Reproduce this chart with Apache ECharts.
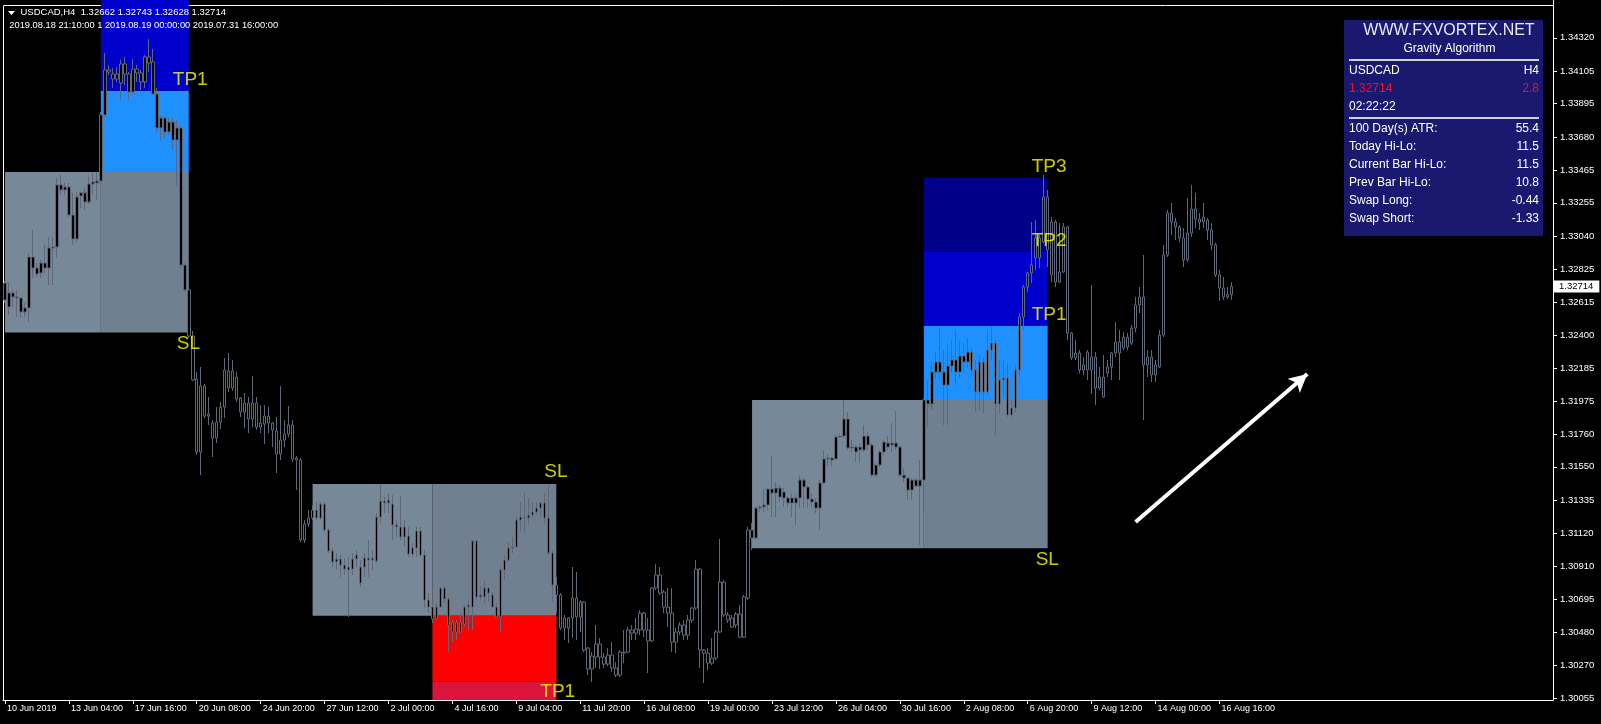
<!DOCTYPE html>
<html><head><meta charset="utf-8">
<script src="https://cdn.jsdelivr.net/npm/echarts@6/dist/echarts.min.js"></script>
<style>html,body{margin:0;padding:0;background:#000;}#c{width:1601px;height:724px;}</style>
</head><body><div id="c"></div>
<script>
// ---------- data ----------
const headerLine1 = 'USDCAD,H4  1.32662 1.32743 1.32628 1.32714';
const headerLine2 = '2019.08.18 21:10:00 1 2019.08.19 00:00:00 2019.07.31 16:00:00';
const xTickLabels = ['10 Jun 2019','13 Jun 04:00','17 Jun 16:00','20 Jun 08:00','24 Jun 20:00','27 Jun 12:00','2 Jul 00:00','4 Jul 16:00','9 Jul 04:00','11 Jul 20:00','16 Jul 08:00','19 Jul 00:00','23 Jul 12:00','26 Jul 04:00','30 Jul 16:00','2 Aug 08:00','6 Aug 20:00','9 Aug 12:00','14 Aug 00:00','16 Aug 16:00'];
const xTickBars = [0,16,32,48,64,80,96,112,128,144,160,176,192,208,224,240,256,272,288,304];
const yTickLabels = ['1.30055','1.30270','1.30480','1.30695','1.30910','1.31120','1.31335','1.31550','1.31760','1.31975','1.32185','1.32400','1.32615','1.32825','1.33040','1.33255','1.33465','1.33680','1.33895','1.34105','1.34320'];
const slotCount = 388;
const priceMin = 1.30045, priceMax = 1.34564;
const lastPrice = 1.32714;
// [open, close, low, high]
const candles = [
[1.32627,1.32737,1.32608,1.32750],[1.32673,1.32582,1.32531,1.32743],[1.32647,1.32673,1.32582,1.32692],[1.32647,1.32640,1.32518,1.32692],
[1.32640,1.32550,1.32511,1.32647],[1.32550,1.32576,1.32518,1.32608],[1.32576,1.32905,1.32485,1.32931],[1.32905,1.32834,1.32769,1.33079],
[1.32834,1.32795,1.32776,1.32866],[1.32802,1.32866,1.32769,1.32886],[1.32866,1.32834,1.32802,1.32983],[1.32834,1.32963,1.32724,1.33034],
[1.32963,1.32970,1.32724,1.33028],[1.32970,1.33370,1.32899,1.33415],[1.33370,1.33338,1.33305,1.33435],[1.33338,1.33357,1.33305,1.33383],
[1.33357,1.33176,1.33163,1.33383],[1.33176,1.33021,1.32983,1.33319],[1.33021,1.33292,1.33002,1.33325],[1.33299,1.33319,1.33221,1.33325],
[1.33319,1.33260,1.33208,1.33351],[1.33260,1.33376,1.33247,1.33422],[1.33376,1.33389,1.33305,1.33448],[1.33383,1.33396,1.33273,1.33454],
[1.33396,1.33822,1.33370,1.33841],[1.33822,1.34112,1.33809,1.34222],[1.34112,1.34099,1.34080,1.34144],[1.34086,1.34054,1.33996,1.34125],
[1.34054,1.34086,1.34035,1.34131],[1.34028,1.34151,1.33918,1.34177],[1.34151,1.34086,1.34015,1.34196],[1.34086,1.33970,1.33918,1.34099],
[1.33970,1.34118,1.33951,1.34183],[1.34118,1.34093,1.34035,1.34144],[1.34093,1.34035,1.33983,1.34112],[1.34035,1.34196,1.33996,1.34209],
[1.34196,1.34157,1.34099,1.34312],[1.34164,1.33957,1.33951,1.34248],[1.33957,1.33738,1.33712,1.33996],[1.33738,1.33802,1.33660,1.33815],
[1.33802,1.33712,1.33673,1.33809],[1.33712,1.33776,1.33692,1.33802],[1.33776,1.33660,1.33596,1.33802],[1.33660,1.33738,1.33357,1.33789],
[1.33738,1.32853,1.32834,1.33757],[1.32853,1.32692,1.32679,1.32866],[1.32692,1.32395,1.32382,1.32705],[1.32395,1.32111,1.32104,1.32427],
[1.32117,1.31646,1.31627,1.32162],[1.31646,1.32072,1.31497,1.32195],[1.32072,1.31878,1.31865,1.32085],[1.31878,1.31891,1.31820,1.32001],
[1.31833,1.31736,1.31614,1.31852],[1.31736,1.31839,1.31704,1.31936],[1.31839,1.31936,1.31794,1.31969],[1.31936,1.32175,1.31865,1.32253],
[1.32169,1.32059,1.32033,1.32285],[1.32059,1.32169,1.32040,1.32240],[1.32130,1.31988,1.31969,1.32162],[1.31995,1.31904,1.31872,1.32001],
[1.31904,1.31962,1.31801,1.32027],[1.31962,1.31859,1.31768,1.32001],[1.31859,1.31962,1.31807,1.32137],[1.31962,1.31807,1.31788,1.32001],
[1.31807,1.31833,1.31768,1.31949],[1.31826,1.31878,1.31697,1.31949],[1.31878,1.31833,1.31768,1.31936],[1.31833,1.31788,1.31678,1.31839],
[1.31781,1.31633,1.31510,1.31872],[1.31633,1.31723,1.31594,1.32072],[1.31723,1.31762,1.31678,1.31852],[1.31762,1.31820,1.31743,1.31943],
[1.31820,1.31601,1.31581,1.31852],[1.31607,1.31594,1.31400,1.31620],[1.31594,1.31078,1.31065,1.31607],[1.31078,1.31181,1.31058,1.31207],
[1.31181,1.31220,1.31162,1.31271],[1.31220,1.31271,1.31207,1.31304],[1.31271,1.31220,1.31207,1.31323],[1.31220,1.31310,1.31207,1.31323],
[1.31310,1.31142,1.31129,1.31323],[1.31142,1.31007,1.30994,1.31155],[1.31007,1.30936,1.30903,1.31026],[1.30936,1.30955,1.30884,1.30994],
[1.30955,1.30916,1.30839,1.30981],[1.30916,1.30890,1.30852,1.30961],[1.30903,1.30884,1.30581,1.30968],[1.30890,1.30955,1.30852,1.30994],
[1.30955,1.30981,1.30903,1.31013],[1.30903,1.30800,1.30774,1.30948],[1.30903,1.30961,1.30839,1.30994],[1.30961,1.30948,1.30839,1.31078],
[1.30948,1.30961,1.30884,1.31013],[1.30942,1.31226,1.30929,1.31252],[1.31226,1.31329,1.31187,1.31439],[1.31329,1.31317,1.31252,1.31355],
[1.31317,1.31336,1.31252,1.31381],[1.31310,1.31175,1.31078,1.31368],[1.31175,1.31162,1.31097,1.31207],[1.31162,1.31097,1.31078,1.31362],
[1.31097,1.31162,1.31033,1.31207],[1.31104,1.30987,1.30968,1.31162],[1.30987,1.31026,1.30968,1.31058],[1.31026,1.31136,1.30968,1.31162],
[1.31136,1.30981,1.30968,1.31162],[1.30981,1.30690,1.30645,1.31013],[1.30690,1.30645,1.30606,1.30735],[1.30645,1.30568,1.30542,1.30671],
[1.30568,1.30645,1.30561,1.30671],[1.30645,1.30768,1.30639,1.30774],[1.30768,1.30697,1.30671,1.30781],[1.30697,1.30529,1.30354,1.30710],
[1.30542,1.30484,1.30419,1.30561],[1.30484,1.30542,1.30432,1.30561],[1.30542,1.30484,1.30477,1.30606],[1.30535,1.30645,1.30516,1.30658],
[1.30645,1.30658,1.30497,1.30690],[1.30645,1.31071,1.30497,1.31078],[1.31071,1.30710,1.30690,1.31078],[1.30710,1.30723,1.30690,1.30774],
[1.30710,1.30768,1.30671,1.30819],[1.30768,1.30735,1.30677,1.30774],[1.30723,1.30645,1.30639,1.30742],[1.30645,1.30581,1.30574,1.30671],
[1.30581,1.30884,1.30484,1.30903],[1.30884,1.30948,1.30819,1.30981],[1.30948,1.31026,1.30936,1.31065],[1.31026,1.31033,1.30994,1.31097],
[1.31033,1.31207,1.31026,1.31226],[1.31207,1.31226,1.31129,1.31323],[1.31226,1.31220,1.31123,1.31388],[1.31220,1.31239,1.31175,1.31349],
[1.31239,1.31258,1.31226,1.31323],[1.31258,1.31284,1.31239,1.31323],[1.31284,1.31317,1.31226,1.31323],[1.31317,1.31220,1.31187,1.31381],
[1.31220,1.30994,1.30981,1.31433],[1.30994,1.30787,1.30677,1.31013],[1.30787,1.30723,1.30606,1.30839],[1.30723,1.30510,1.30497,1.30735],
[1.30510,1.30574,1.30432,1.30594],[1.30574,1.30510,1.30413,1.30581],[1.30574,1.30703,1.30445,1.30903],[1.30703,1.30581,1.30432,1.30871],
[1.30581,1.30677,1.30484,1.30690],[1.30677,1.30367,1.30354,1.30684],[1.30380,1.30245,1.30206,1.30387],[1.30245,1.30329,1.30161,1.30354],
[1.30322,1.30406,1.30251,1.30529],[1.30406,1.30322,1.30245,1.30445],[1.30322,1.30277,1.30251,1.30348],[1.30277,1.30335,1.30264,1.30380],
[1.30335,1.30251,1.30225,1.30419],[1.30251,1.30206,1.30193,1.30290],[1.30206,1.30354,1.30193,1.30367],[1.30354,1.30348,1.30283,1.30497],
[1.30354,1.30497,1.30348,1.30516],[1.30497,1.30477,1.30432,1.30529],[1.30477,1.30503,1.30432,1.30574],[1.30497,1.30606,1.30464,1.30626],
[1.30606,1.30497,1.30451,1.30613],[1.30497,1.30426,1.30219,1.30574],[1.30426,1.30768,1.30419,1.30774],[1.30768,1.30852,1.30755,1.30922],
[1.30852,1.30735,1.30723,1.30903],[1.30742,1.30645,1.30606,1.30755],[1.30645,1.30606,1.30516,1.30768],[1.30606,1.30419,1.30354,1.30768],
[1.30419,1.30484,1.30348,1.30510],[1.30484,1.30529,1.30464,1.30548],[1.30529,1.30464,1.30432,1.30561],[1.30464,1.30561,1.30432,1.30594],
[1.30561,1.30639,1.30542,1.30645],[1.30639,1.30890,1.30626,1.30948],[1.30890,1.30367,1.30251,1.30897],[1.30367,1.30348,1.30154,1.30374],
[1.30348,1.30283,1.30238,1.30380],[1.30283,1.30316,1.30270,1.30445],[1.30316,1.30484,1.30303,1.30497],[1.30484,1.30806,1.30477,1.31085],
[1.30806,1.30594,1.30581,1.30819],[1.30594,1.30561,1.30542,1.30613],[1.30574,1.30516,1.30510,1.30594],[1.30529,1.30600,1.30510,1.30613],
[1.30600,1.30451,1.30445,1.30658],[1.30451,1.30710,1.30445,1.30723],[1.30703,1.31142,1.30690,1.31162],[1.31142,1.31091,1.31013,1.31187],
[1.31091,1.31284,1.31078,1.31291],[1.31284,1.31291,1.31258,1.31304],[1.31291,1.31304,1.31258,1.31407],[1.31304,1.31407,1.31271,1.31413],
[1.31407,1.31381,1.31226,1.31620],[1.31381,1.31413,1.31226,1.31452],[1.31413,1.31355,1.31323,1.31433],[1.31388,1.31349,1.31291,1.31413],
[1.31349,1.31317,1.31291,1.31362],[1.31317,1.31349,1.31226,1.31381],[1.31349,1.31317,1.31175,1.31368],[1.31349,1.31465,1.31284,1.31497],
[1.31465,1.31420,1.31284,1.31478],[1.31420,1.31342,1.31284,1.31433],[1.31342,1.31323,1.31284,1.31381],[1.31323,1.31284,1.31252,1.31349],
[1.31284,1.31446,1.31142,1.31465],[1.31446,1.31601,1.31439,1.31659],[1.31601,1.31607,1.31555,1.31633],[1.31607,1.31594,1.31555,1.31614],
[1.31601,1.31743,1.31594,1.31756],[1.31743,1.31749,1.31736,1.31768],[1.31749,1.31859,1.31736,1.31982],[1.31859,1.31672,1.31659,1.31904],
[1.31672,1.31678,1.31646,1.31723],[1.31678,1.31646,1.31581,1.31691],[1.31659,1.31678,1.31575,1.31704],[1.31659,1.31749,1.31646,1.31820],
[1.31749,1.31691,1.31659,1.31775],[1.31691,1.31497,1.31485,1.31704],[1.31497,1.31562,1.31485,1.31575],[1.31562,1.31646,1.31549,1.31659],
[1.31646,1.31710,1.31627,1.31723],[1.31678,1.31704,1.31659,1.31749],[1.31691,1.31704,1.31646,1.31833],[1.31704,1.31678,1.31659,1.31910],
[1.31678,1.31497,1.31485,1.31691],[1.31497,1.31478,1.31452,1.31543],[1.31478,1.31400,1.31336,1.31485],[1.31400,1.31465,1.31336,1.31478],
[1.31465,1.31426,1.31420,1.31478],[1.31426,1.31465,1.31046,1.31594],[1.31465,1.31982,1.31258,1.31988],[1.31982,1.31956,1.31807,1.32111],
[1.31956,1.32162,1.31917,1.32227],[1.32162,1.32227,1.32124,1.32291],[1.32227,1.32162,1.32111,1.32446],[1.32162,1.32078,1.31820,1.32304],
[1.32078,1.32201,1.31820,1.32337],[1.32201,1.32240,1.32162,1.32369],[1.32240,1.32162,1.32078,1.32434],[1.32162,1.32266,1.32124,1.32369],
[1.32266,1.32227,1.32162,1.32337],[1.32227,1.32291,1.32188,1.32382],[1.32291,1.32175,1.32137,1.32317],[1.32175,1.32033,1.31904,1.32240],
[1.32033,1.32227,1.31917,1.32272],[1.32227,1.32033,1.31897,1.32253],[1.32033,1.32304,1.32014,1.32434],[1.32304,1.32349,1.32240,1.32459],
[1.32349,1.31956,1.31756,1.32369],[1.31956,1.32111,1.31897,1.32240],[1.32111,1.32124,1.32014,1.32240],[1.32124,1.31885,1.31872,1.32220],
[1.31885,1.31930,1.31872,1.31982],[1.31930,1.32175,1.31904,1.32208],[1.32175,1.32518,1.32130,1.32543],[1.32518,1.32711,1.32434,1.32724],
[1.32711,1.32802,1.32679,1.32808],[1.32802,1.32853,1.32737,1.33131],[1.32899,1.33028,1.32821,1.33144],[1.33028,1.32899,1.32834,1.33047],
[1.33002,1.33292,1.32996,1.33435],[1.33292,1.32950,1.32840,1.33338],[1.32789,1.33131,1.32743,1.33163],[1.33131,1.32743,1.32711,1.33144],
[1.32743,1.32808,1.32737,1.33124],[1.32808,1.33099,1.32802,1.33124],[1.33099,1.32414,1.32369,1.33105],[1.32414,1.32253,1.32240,1.32420],
[1.32253,1.32285,1.32240,1.32369],[1.32285,1.32175,1.32156,1.32304],[1.32175,1.32208,1.32143,1.32259],[1.32175,1.32291,1.32111,1.32304],
[1.32259,1.32175,1.32020,1.32724],[1.32259,1.32059,1.31949,1.32291],[1.32059,1.32130,1.32046,1.32195],[1.32130,1.32001,1.31995,1.32272],
[1.32156,1.32195,1.32130,1.32240],[1.32195,1.32285,1.32111,1.32291],[1.32285,1.32356,1.32259,1.32485],[1.32356,1.32285,1.32111,1.32434],
[1.32317,1.32388,1.32304,1.32420],[1.32388,1.32324,1.32304,1.32414],[1.32349,1.32446,1.32337,1.32466],[1.32446,1.32595,1.32420,1.32647],
[1.32595,1.32647,1.32543,1.32711],[1.32647,1.32208,1.31852,1.32918],[1.32208,1.32259,1.32130,1.32304],[1.32259,1.32143,1.32098,1.32304],
[1.32143,1.32208,1.32098,1.32240],[1.32195,1.32401,1.32188,1.32434],[1.32401,1.32918,1.32388,1.32983],[1.32918,1.33189,1.32905,1.33208],
[1.33189,1.33131,1.33047,1.33253],[1.33131,1.33099,1.33015,1.33157],[1.33099,1.33028,1.33002,1.33111],[1.33028,1.32886,1.32840,1.33092],
[1.32886,1.33060,1.32873,1.33286],[1.33060,1.33215,1.33034,1.33370],[1.33215,1.33150,1.33092,1.33319],[1.33150,1.33131,1.33079,1.33189],
[1.33131,1.33163,1.33092,1.33253],[1.33144,1.33079,1.33015,1.33157],[1.33079,1.32983,1.32950,1.33124],[1.32983,1.32789,1.32776,1.32996],
[1.32789,1.32705,1.32621,1.32821],[1.32705,1.32647,1.32627,1.32776],[1.32647,1.32662,1.32634,1.32711],[1.32662,1.32714,1.32628,1.32743]
];
// zones: [fromBar, toBar, lowPrice, highPrice, colour]
const zones = [
[0,24,1.32417,1.33454,'#778899'],[24,46,1.32417,1.33454,'#708090'],[24,46,1.33454,1.33978,'#1E90FF'],[24,46,1.33978,1.34564,'#0000CD'],
[77,107,1.30589,1.31439,'#778899'],[107,138,1.30589,1.31439,'#708090'],[107,138,1.30163,1.30589,'#FF0000'],[107,138,1.30045,1.30163,'#DC143C'],
[187,230,1.31024,1.31982,'#778899'],[230,261,1.31024,1.31982,'#708090'],[230,261,1.31982,1.32461,'#1E90FF'],[230,261,1.32461,1.32939,'#0000CD'],[230,261,1.32939,1.33417,'#00008B']
];
const levelText  = ['TP1','SL','SL','TP1','TP3','TP2','TP1','SL'];
const levelBar   = [42,43,135,134,257,257,257,258];
const levelPrice = [1.34048,1.32343,1.31517,1.30096,1.33486,1.33009,1.32534,1.30951];
const arrowFrom = [283, 1.31194];
const arrowTo = [326, 1.32149];
const panelTitle = 'WWW.FXVORTEX.NET';
const panelSub = 'Gravity Algorithm';
const panelTop = [['USDCAD','H4','#ffffff'],['1.32714','2.8','#f01020'],['02:22:22','','#ffffff']];
const panelStats = [['100 Day(s) ATR:','55.4'],['Today Hi-Lo:','11.5'],['Current Bar Hi-Lo:','11.5'],['Prev Bar Hi-Lo:','10.8'],['Swap Long:','-0.44'],['Swap Short:','-1.33']];

// ---------- chart ----------
const FONT = 'Liberation Sans, Arial, sans-serif';
const categories = Array.from({length: slotCount}, (_, i) => String(i));
const tickMap = {};
xTickBars.forEach((b, k) => { tickMap[b] = xTickLabels[k]; });
const isTick = (i) => tickMap[i] !== undefined;
const yVals = yTickLabels.map(Number);

const graphics = [];
// chart frame (under series)
graphics.push({type:'line', z:0, silent:true, shape:{x1:3.5,y1:5.5,x2:1553,y2:5.5}, style:{stroke:'#ffffff', lineWidth:1}});
graphics.push({type:'line', z:0, silent:true, shape:{x1:3.5,y1:5.5,x2:3.5,y2:700}, style:{stroke:'#ffffff', lineWidth:1}});
// header
graphics.push({type:'polygon', z:100, silent:true, shape:{points:[[8,11],[15,11],[11.5,15]]}, style:{fill:'#ffffff'}});
graphics.push({type:'text', z:100, silent:true, style:{text:headerLine1, x:20.5, y:12.7, fill:'#ffffff', font:'9.5px '+FONT, verticalAlign:'middle', align:'left'}});
graphics.push({type:'text', z:100, silent:true, style:{text:headerLine2, x:9.3, y:25.3, fill:'#ffffff', font:'9.3px '+FONT, verticalAlign:'middle', align:'left'}});
// info panel
graphics.push({type:'rect', z:100, silent:true, shape:{x:1344, y:20, width:199, height:216}, style:{fill:'#191970'}});
graphics.push({type:'text', z:101, silent:true, style:{text:panelTitle, x:1449, y:30.7, fill:'#e8e8ff', font:'16px '+FONT, align:'center', verticalAlign:'middle'}});
graphics.push({type:'text', z:101, silent:true, style:{text:panelSub, x:1449.5, y:48.7, fill:'#ffffff', font:'12px '+FONT, align:'center', verticalAlign:'middle'}});
graphics.push({type:'line', z:101, silent:true, shape:{x1:1349, y1:60, x2:1539, y2:60}, style:{stroke:'#d3d3d3', lineWidth:2}});
graphics.push({type:'line', z:101, silent:true, shape:{x1:1349, y1:118, x2:1539, y2:118}, style:{stroke:'#d3d3d3', lineWidth:2}});
const topY = [70.7, 88.8, 106.8];
panelTop.forEach((r, k) => {
  graphics.push({type:'text', z:101, silent:true, style:{text:r[0], x:1349, y:topY[k], fill:r[2], font:'12px '+FONT, align:'left', verticalAlign:'middle'}});
  if (r[1]) graphics.push({type:'text', z:101, silent:true, style:{text:r[1], x:1539, y:topY[k], fill:r[2], font:'12px '+FONT, align:'right', verticalAlign:'middle'}});
});
const statY = [128.7, 146.7, 164.8, 182.8, 201.1, 219];
panelStats.forEach((r, k) => {
  graphics.push({type:'text', z:101, silent:true, style:{text:r[0], x:1349, y:statY[k], fill:'#ffffff', font:'12px '+FONT, align:'left', verticalAlign:'middle'}});
  graphics.push({type:'text', z:101, silent:true, style:{text:r[1], x:1539, y:statY[k], fill:'#ffffff', font:'12px '+FONT, align:'right', verticalAlign:'middle'}});
});

const option = {
  backgroundColor: '#000000',
  animation: false,
  grid: { left: 3, right: 48, top: 0, bottom: 24, containLabel: false, outerBoundsMode: 'none' },
  xAxis: {
    type: 'category', data: categories, boundaryGap: true,
    axisLine: { show: true, lineStyle: { color: '#ffffff', width: 1 } },
    axisTick: { show: true, alignWithLabel: true, interval: (i) => isTick(i), length: 4, lineStyle: { color: '#ffffff' } },
    axisLabel: { show: true, interval: (i) => isTick(i), formatter: (v, i) => tickMap[i] || '', color: '#ffffff', fontSize: 9, fontFamily: FONT, align: 'left', margin: 4, padding: [0, 0, 0, 2] },
    splitLine: { show: false }
  },
  yAxis: {
    type: 'value', position: 'right', min: priceMin, max: priceMax, scale: true,
    axisLine: { show: true, lineStyle: { color: '#ffffff', width: 1 } },
    axisTick: { show: true, length: 4, lineStyle: { color: '#ffffff' }, customValues: yVals },
    axisLabel: { show: true, customValues: yVals, formatter: (v) => Number(v).toFixed(5), color: '#ffffff', fontSize: 9.5, fontFamily: FONT, margin: 7 },
    splitLine: { show: false }
  },
  graphic: { elements: graphics },
  series: [
    {
      type: 'line', data: [], z: 1, silent: true,
      markArea: {
        silent: true,
        data: zones.map(z => [
          { xAxis: z[0], yAxis: z[2], itemStyle: { color: z[4], opacity: 1, borderWidth: 0 } },
          { xAxis: z[1], yAxis: z[3] }
        ])
      }
    },
    {
      type: 'candlestick', data: candles, z: 3, barWidth: 3, silent: true,
      itemStyle: { color: '#000000', color0: '#000000', borderColor: '#5e6878', borderColor0: '#5e6878', borderWidth: 1 },
      markLine: {
        silent: true, symbol: ['none', 'none'], animation: false, precision: 5,
        lineStyle: { color: 'rgba(0,0,0,0)', width: 0 },
        label: { show: true, position: 'end', formatter: lastPrice.toFixed(5), backgroundColor: '#ffffff', color: '#000000', fontSize: 9.5, fontFamily: FONT, padding: [1, 6, 1, 5], distance: 1 },
        data: [{ yAxis: lastPrice }]
      }
    },
    {
      type: 'scatter', z: 4, silent: true, symbolSize: 1,
      itemStyle: { color: 'rgba(0,0,0,0)' },
      data: levelText.map((t, k) => ({ value: [levelBar[k], levelPrice[k]], label: { formatter: t } })),
      label: { show: true, position: 'inside', align: 'left', verticalAlign: 'middle', color: '#ffff00', fontSize: 19, fontFamily: FONT, textBorderWidth: 0, textShadowBlur: 0 }
    },
    {
      type: 'line', data: [], z: 5, silent: true,
      markLine: {
        silent: true, symbol: ['none', 'arrow'], symbolSize: [14, 18], precision: 5,
        lineStyle: { color: '#ffffff', width: 4, type: 'solid' },
        label: { show: false },
        data: [[{ coord: arrowFrom }, { coord: arrowTo }]]
      }
    }
  ]
};
const chart = echarts.init(document.getElementById('c'), null, { renderer: 'canvas' });
chart.setOption(option);
</script>
</body></html>
